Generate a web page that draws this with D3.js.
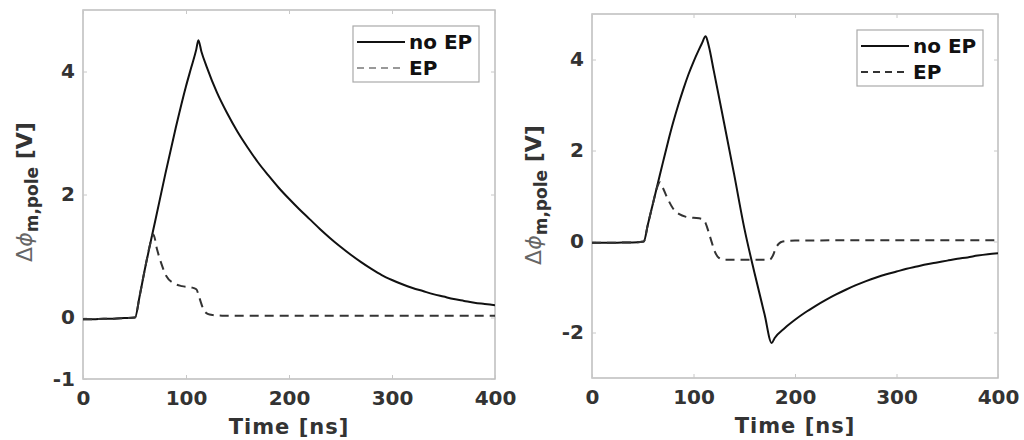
<!DOCTYPE html>
<html><head><meta charset="utf-8">
<script src="https://cdn.jsdelivr.net/npm/d3@7"></script>
<style>body{margin:0;background:#fff;}svg{display:block;font-family:"DejaVu Sans",sans-serif;}</style>
</head><body><svg id="c" width="1024" height="440"></svg>
<script>
// ---- data ----
const xTicks = [0, 100, 200, 300, 400];
const leftYTicks = [-1, 0, 2, 4];
const rightYTicks = [-2, 0, 2, 4];
const seriesNames = ["no EP", "EP"];

const leftNoEPTime = [0,10,20,30,40,50.5,55,60,65,70,80,90,100,105,110,112,115,120,130,140,150,160,170,180,190,200,210,220,230,240,250,260,270,280,290,300,310,320,330,340,350,360,370,380,390,400];
const leftNoEP = [-0.03,-0.03,-0.02,-0.02,-0.01,0.0,0.35,0.78,1.18,1.56,2.34,3.08,3.76,4.06,4.36,4.51,4.32,4.08,3.66,3.32,3.02,2.76,2.52,2.31,2.11,1.93,1.76,1.6,1.44,1.29,1.15,1.02,0.9,0.79,0.69,0.61,0.54,0.48,0.43,0.38,0.34,0.3,0.27,0.24,0.22,0.2];

const leftEPTime = [0,10,20,30,40,50.5,55,60,65,68.3,72,76,81,88,96,105,110,113,117,121,126,135,200,300,400];
const leftEP = [-0.03,-0.03,-0.02,-0.02,-0.01,0.0,0.35,0.78,1.18,1.35,1.1,0.88,0.67,0.56,0.51,0.49,0.46,0.32,0.13,0.06,0.04,0.03,0.03,0.03,0.03];

const rightNoEPTime = [0,10,20,30,40,51,55,60,65,70,75,80,85,90,95,100,105,108,112,115,120,130,140,150,160,170,177,180,190,200,210,220,230,240,250,260,270,280,290,300,310,320,330,340,350,360,370,380,390,400];
const rightNoEP = [-0.03,-0.03,-0.03,-0.02,-0.02,0.0,0.37,0.83,1.29,1.75,2.2,2.62,3.0,3.35,3.67,3.95,4.2,4.34,4.51,4.3,3.75,2.62,1.48,0.3,-0.68,-1.6,-2.23,-2.12,-1.9,-1.72,-1.56,-1.42,-1.29,-1.17,-1.06,-0.96,-0.87,-0.79,-0.72,-0.66,-0.6,-0.55,-0.5,-0.46,-0.42,-0.38,-0.35,-0.31,-0.28,-0.26];

const rightEPTime = [0,10,20,30,40,51,55,60,64,67,70,75,80,86,93,100,108,112,115,118,121,125,130,150,175,178,181,184,188,200,300,400];
const rightEP = [-0.03,-0.03,-0.03,-0.02,-0.02,0.0,0.37,0.83,1.18,1.3,1.17,0.92,0.72,0.6,0.54,0.52,0.5,0.4,0.2,-0.02,-0.22,-0.36,-0.4,-0.4,-0.4,-0.32,-0.15,-0.05,0.0,0.02,0.03,0.03];

// ---- drawing ----
const svg = d3.select("#c");
const font = '"DejaVu Sans", sans-serif';
const fmt = d => String(d);

function panel(cfg) {
  const x = d3.scaleLinear().domain([0, 400]).range([cfg.x0, cfg.x1]);
  const y = d3.scaleLinear().domain(cfg.yDomain).range([cfg.y1, cfg.y0]);
  const g = svg.append("g");

  g.append("rect").attr("x", cfg.x0).attr("y", cfg.y0)
    .attr("width", cfg.x1 - cfg.x0).attr("height", cfg.y1 - cfg.y0)
    .attr("fill", "none").attr("stroke", "#bdbdbd").attr("stroke-width", 1.5);

  const xa = g.append("g").attr("transform", `translate(0,${cfg.y1})`)
    .call(d3.axisBottom(x).tickValues(xTicks).tickSize(-4).tickPadding(10).tickFormat(fmt));
  const xt = g.append("g").attr("transform", `translate(0,${cfg.y0})`)
    .call(d3.axisTop(x).tickValues(xTicks).tickSize(-4).tickFormat(""));
  const ya = g.append("g").attr("transform", `translate(${cfg.x0},0)`)
    .call(d3.axisLeft(y).tickValues(cfg.yTicks).tickSize(-4).tickPadding(8).tickFormat(fmt));
  const yr = g.append("g").attr("transform", `translate(${cfg.x1},0)`)
    .call(d3.axisRight(y).tickValues(cfg.yTicks).tickSize(-4).tickFormat(""));
  [xa, xt, ya, yr].forEach(a => {
    a.select(".domain").remove();
    a.selectAll(".tick line").attr("stroke", "#c8c8c8");
    a.selectAll("text").attr("font-family", font).attr("font-weight", "bold")
      .attr("font-size", 20).attr("fill", "#333");
  });
  xa.selectAll("text").attr("dy", "0.8em");

  g.append("text").attr("x", (cfg.x0 + cfg.x1) / 2).attr("y", cfg.y1 + 55)
    .attr("text-anchor", "middle").attr("font-family", font).attr("font-weight", "bold")
    .attr("font-size", 21).attr("fill", "#333").attr("letter-spacing", 1).text("Time [ns]");

  const yl = g.append("text")
    .attr("transform", `translate(${cfg.ylx},${cfg.yly}) rotate(-90)`)
    .attr("text-anchor", "middle").attr("font-family", font).attr("fill", "#333");
  yl.append("tspan").attr("font-size", 22).attr("fill", "#666").text("Δ");
  yl.append("tspan").attr("font-size", 22).attr("fill", "#666").attr("font-style", "italic").text("ϕ");
  yl.append("tspan").attr("font-size", 17).attr("font-weight", "bold").attr("dy", 6).text("m,pole");
  yl.append("tspan").attr("font-size", 22).attr("font-weight", "bold").attr("dy", -6).text(" [V]");

  const line = d3.line().x(d => x(d[0])).y(d => y(d[1])).curve(d3.curveMonotoneX);
  const clipId = "clip" + cfg.id;
  svg.append("clipPath").attr("id", clipId).append("rect")
    .attr("x", cfg.x0).attr("y", cfg.y0).attr("width", cfg.x1 - cfg.x0).attr("height", cfg.y1 - cfg.y0);
  g.append("path").datum(d3.zip(cfg.t1, cfg.v1)).attr("d", line)
    .attr("fill", "none").attr("stroke", "#111").attr("stroke-width", 2).attr("clip-path", `url(#${clipId})`);
  g.append("path").datum(d3.zip(cfg.t2, cfg.v2)).attr("d", line)
    .attr("fill", "none").attr("stroke", "#333").attr("stroke-width", 2)
    .attr("stroke-dasharray", "9,6").attr("clip-path", `url(#${clipId})`);

  const lg = g.append("g").attr("transform", `translate(${cfg.lx},${cfg.ly})`);
  lg.append("rect").attr("width", 126).attr("height", 56).attr("fill", "#fff")
    .attr("stroke", "#aaa").attr("stroke-width", 1.2);
  const styles = [{dash: null, col: "#111"}, {dash: "7,5", col: cfg.epLegendCol}];
  seriesNames.forEach((n, i) => {
    const yy = 16 + i * 26;
    lg.append("line").attr("x1", 4).attr("x2", 52).attr("y1", yy).attr("y2", yy)
      .attr("stroke", styles[i].col).attr("stroke-width", 2)
      .attr("stroke-dasharray", styles[i].dash);
    lg.append("text").attr("x", 56).attr("y", yy).attr("dy", "0.36em")
      .attr("font-family", font).attr("font-weight", "bold").attr("font-size", 20)
      .attr("fill", "#111").text(n);
  });
}

panel({id: "L", x0: 83, x1: 495, y0: 10, y1: 379, yDomain: [-1, 5], yTicks: leftYTicks,
  t1: leftNoEPTime, v1: leftNoEP, t2: leftEPTime, v2: leftEP, ylx: 32, yly: 192, lx: 353, ly: 26, epLegendCol: "#999"});
panel({id: "R", x0: 592, x1: 998, y0: 14, y1: 378, yDomain: [-3, 5], yTicks: rightYTicks,
  t1: rightNoEPTime, v1: rightNoEP, t2: rightEPTime, v2: rightEP, ylx: 541, yly: 195, lx: 857, ly: 30, epLegendCol: "#333"});
</script></body></html>
